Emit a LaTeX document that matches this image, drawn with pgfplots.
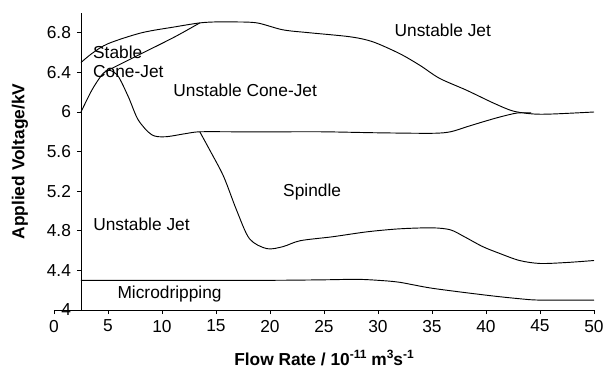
\documentclass[border=0pt]{standalone}
\usepackage{pgfplots}
\pgfplotsset{compat=1.18}
\usepackage{fontspec}
\setmainfont{Liberation Sans}
\newcommand{\supx}[1]{\raisebox{0.75ex}{\fontsize{9}{10}\selectfont\bfseries #1}}
\begin{document}
\fontsize{13}{15.6}\selectfont
\begin{tikzpicture}
\path[use as bounding box] (-40.5pt,-44.25pt) rectangle (412.5pt,232.5pt);
\begin{axis}[
 at={(0,0)}, anchor=south west,
 scale only axis, width=405pt, height=222.75pt,
 xmin=0, xmax=50, ymin=4, ymax=7,
 axis x line=bottom, axis y line=left,
 axis line style={-, line width=0.6pt},
 axis y line shift=-20.25pt,
 xtick={0,5,...,50}, ytick={4,4.4,4.8,5.2,5.6,6,6.4,6.8},
 tick align=outside, major tick length=3pt,
 tick style={black, line width=0.6pt},
 /pgf/number format/assume math mode=true,
 tick label style={font=\fontsize{13}{15}\selectfont},
 xlabel={Flow Rate / 10\supx{-11} m\supx{3}s\supx{-1}},
 ylabel={Applied Voltage/kV},
 xlabel style={at={(axis description cs:0.5,0)}, anchor=base, yshift=-41.25pt, font=\fontsize{13}{15}\selectfont\bfseries},
 ylabel style={at={(axis description cs:-0.063,0.5)}, anchor=center, font=\fontsize{13}{15}\selectfont\bfseries},
 clip=false,
]
% upper boundary
\addplot[black, line width=0.7pt, smooth, mark=none] coordinates {(2.5,6.50) (3.5,6.59) (5,6.69) (8.1,6.80) (11.2,6.86) (13.5,6.90) (15,6.91) (16.6,6.91) (18.8,6.90) (21.2,6.83) (23.7,6.80) (27.4,6.76) (29.5,6.71) (32,6.59) (33.9,6.47) (35.7,6.34) (38.2,6.22) (40.7,6.09) (42.5,6.01) (44.4,5.98) (46.2,5.98) (50,6.0)};
% lower boundary of stable cone-jet
\addplot[black, line width=0.7pt, smooth, mark=none] coordinates {(2.5,6.0) (3.5,6.22) (4.4,6.37) (5,6.42) (8.1,6.59) (11.2,6.76) (13.5,6.90)};
% falling curve and 5.8 line
\addplot[black, line width=0.7pt, smooth, mark=none] coordinates {(4.7,6.41) (5.2,6.42) (5.95,6.36) (6.9,6.15) (7.8,5.92) (9.05,5.77) (10.3,5.75) (12.1,5.78) (13.5,5.80) (17,5.80) (21,5.80) (25,5.80) (30,5.79) (35,5.785) (36.7,5.80) (38.2,5.85) (39.7,5.90) (41.3,5.95) (42.9,5.99) (44.2,5.99)};
% spindle
\addplot[black, line width=0.7pt, smooth, mark=none] coordinates {(13.5,5.80) (14.4,5.62) (15.7,5.35) (16.9,5.01) (18.1,4.72) (19.7,4.62) (21.2,4.64) (22.8,4.70) (25.8,4.74) (29,4.79) (32,4.82) (35,4.83) (36.7,4.81) (38,4.74) (39.7,4.64) (41.3,4.57) (43.1,4.50) (45,4.47) (47.5,4.48) (50,4.50)};
% microdripping
\addplot[black, line width=0.7pt, smooth, mark=none] coordinates {(2.5,4.30) (10,4.30) (20,4.30) (25,4.305) (28,4.31) (30,4.30) (32,4.28) (35,4.22) (40,4.15) (43,4.115) (45,4.10) (50,4.10)};
\node[anchor=west, inner sep=0pt] at (axis cs:3.6,6.60) {Stable};
\node[anchor=west, inner sep=0pt] at (axis cs:3.6,6.41) {Cone-Jet};
\node at (axis cs:17.7,6.22) {Unstable Cone-Jet};
\node at (axis cs:36.0,6.83) {Unstable Jet};
\node at (axis cs:23.9,5.19) {Spindle};
\node at (axis cs:8.1,4.87) {Unstable Jet};
\node at (axis cs:10.7,4.16) {Microdripping};
\end{axis}
\end{tikzpicture}
\end{document}
